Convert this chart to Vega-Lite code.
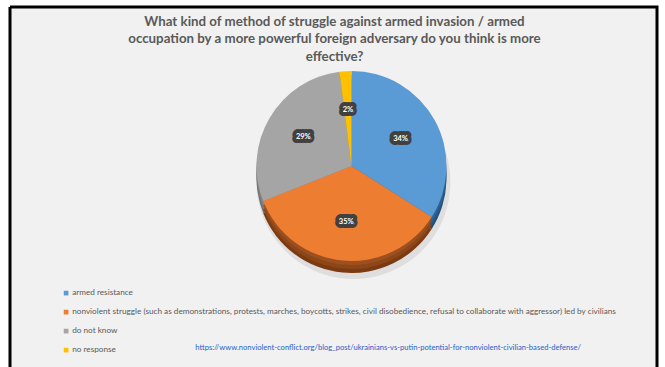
{
  "$schema": "https://vega.github.io/schema/vega-lite/v6.json",
  "width": 647,
  "height": 360,
  "autosize": {"type": "none"},
  "padding": {"left": 10, "top": 7, "right": 8, "bottom": 0},
  "background": "#ffffff",
  "view": {"stroke": "#000000", "strokeWidth": 3, "fill": "#f1f1f1", "strokeDash": [1007, 647, 360, 0]},
  "title": {
    "text": ["What kind of method of struggle against armed invasion / armed", "occupation by a more powerful foreign adversary do you think is more", "effective?"],
    "anchor": "middle",
    "frame": "group",
    "font": "Lato",
    "fontSize": 13.3,
    "fontWeight": "bold",
    "color": "#595959",
    "lineHeight": 17.5,
    "offset": -56,
    "dx": 1
  },
  "data": {
    "values": [
      {"response": "armed resistance", "pct": 34, "label": "34%", "order": 1},
      {"response": "nonviolent struggle (such as demonstrations, protests, marches, boycotts, strikes, civil disobedience, refusal to collaborate with aggressor) led by civilians", "pct": 35, "label": "35%", "order": 2},
      {"response": "do not know", "pct": 29, "label": "29%", "order": 3},
      {"response": "no response", "pct": 2, "label": "2%", "order": 4}
    ]
  },
  "encoding": {
    "theta": {"field": "pct", "type": "quantitative", "stack": true},
    "order": {"field": "order", "type": "quantitative"}
  },
  "layer": [
    {
      "mark": {"type": "arc", "radius": 97, "xOffset": 20, "yOffset": -5, "color": "#dedede"}
    },
    {
      "mark": {"type": "arc", "radius": 95, "xOffset": 18, "yOffset": -9},
      "encoding": {
        "color": {"field": "response", "type": "nominal", "legend": null,
          "scale": {"domain": ["armed resistance", "nonviolent struggle (such as demonstrations, protests, marches, boycotts, strikes, civil disobedience, refusal to collaborate with aggressor) led by civilians", "do not know", "no response"], "range": ["#234f78", "#7c3a12", "#6e6e6e", "#b08400"]}}
      }
    },
    {
      "mark": {"type": "arc", "radius": 95, "xOffset": 18, "yOffset": -13},
      "encoding": {
        "color": {"field": "response", "type": "nominal", "legend": null,
          "scale": {"domain": ["armed resistance", "nonviolent struggle (such as demonstrations, protests, marches, boycotts, strikes, civil disobedience, refusal to collaborate with aggressor) led by civilians", "do not know", "no response"], "range": ["#2a5a86", "#8c4618", "#7a7a7a", "#c09000"]}}
      }
    },
    {
      "mark": {"type": "arc", "radius": 95, "xOffset": 18, "yOffset": -17},
      "encoding": {
        "color": {"field": "response", "type": "nominal", "legend": null,
          "scale": {"domain": ["armed resistance", "nonviolent struggle (such as demonstrations, protests, marches, boycotts, strikes, civil disobedience, refusal to collaborate with aggressor) led by civilians", "do not know", "no response"], "range": ["#30659a", "#9c5020", "#868686", "#cc9a00"]}}
      }
    },
    {
      "mark": {"type": "arc", "radius": 95, "xOffset": 18, "yOffset": -21},
      "encoding": {
        "color": {"field": "response", "type": "nominal",
          "scale": {"domain": ["armed resistance", "nonviolent struggle (such as demonstrations, protests, marches, boycotts, strikes, civil disobedience, refusal to collaborate with aggressor) led by civilians", "do not know", "no response"], "range": ["#5b9bd5", "#ed7d31", "#a5a5a5", "#ffc000"]},
          "legend": {
            "orient": "none",
            "legendX": 52,
            "legendY": 282,
            "direction": "vertical",
            "symbolType": "square",
            "symbolSize": 22,
            "symbolStrokeWidth": 0,
            "labelFont": "Lato",
            "labelFontSize": 8.2,
            "labelColor": "#595959",
            "labelLimit": 700,
            "labelOffset": 2,
            "rowPadding": 10,
            "padding": 0,
            "title": "https://www.nonviolent-conflict.org/blog_post/ukrainians-vs-putin-potential-for-nonviolent-civilian-based-defense/",
            "titleOrient": "bottom",
            "titleAnchor": "end",
            "titleFont": "Lato",
            "titleFontSize": 7.6,
            "titleFontWeight": "normal",
            "titleColor": "#1f5fc8",
            "titleLimit": 700,
            "titlePadding": -9,
            "encode": {"title": {"update": {"dx": {"value": -35}}}}
          }
        }
      }
    },
    {
      "mark": {"type": "text", "radius": 56, "xOffset": 18, "yOffset": -21, "font": "Lato", "fontSize": 7.5, "fontWeight": "bold", "fill": "#404040", "stroke": "#404040", "strokeWidth": 8, "strokeJoin": "round"},
      "encoding": {"text": {"field": "label", "type": "nominal"}}
    },
    {
      "mark": {"type": "text", "radius": 56, "xOffset": 18, "yOffset": -21, "font": "Lato", "fontSize": 7.5, "fontWeight": "bold", "fill": "#ffffff"},
      "encoding": {"text": {"field": "label", "type": "nominal"}}
    }
  ],
  "resolve": {"scale": {"color": "independent"}, "legend": {"color": "independent"}}
}
